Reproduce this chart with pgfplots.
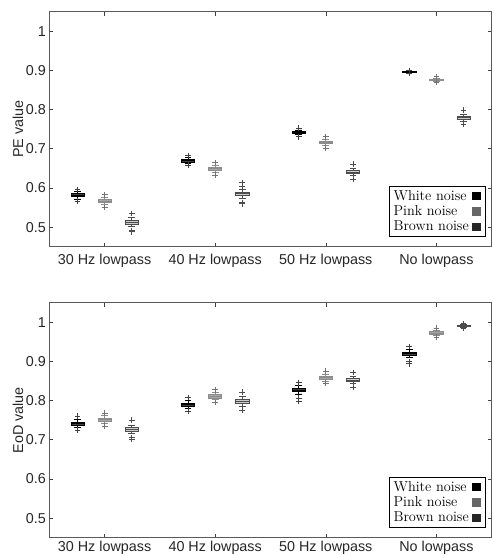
\documentclass[border=0pt]{standalone}
\usepackage{fontspec}
\usepackage{pgfplots}
\pgfplotsset{compat=1.18}
\usepgfplotslibrary{statistics}
\newfontfamily\sansf{Liberation Sans}
\newcommand{\fs}{\fontsize{14.4}{17}\selectfont}
% one box: position, style, median, lower quartile, upper quartile, lower whisker, upper whisker, outliers
\newcommand{\bx}[8]{\addplot[#2, forget plot, boxplot prepared={draw direction=y, draw position=#1, median=#3, lower quartile=#4, upper quartile=#5, lower whisker=#6, upper whisker=#7}] table[row sep=\\, y index=0] {y\\#8};}
\pgfplotsset{
  wn/.style={draw=black, fill=black!75, line width=0.7bp, mark=+, mark size=2.9bp, mark options={draw=black!75}},
  pn/.style={draw=black!45, fill=black!35, line width=0.7bp, mark=+, mark size=2.9bp, mark options={draw=black!55}},
  bn/.style={draw=black!70, fill=black!20, line width=0.7bp, mark=+, mark size=2.9bp, mark options={draw=black!70}},
  myaxis/.style={
    scale only axis, width=442.4bp, height=235bp, anchor=south west,
    xmin=0.5, xmax=4.5, ymin=0.45, ymax=1.05,
    xtick={1,2,3,4},
    xticklabels={30 Hz lowpass, 40 Hz lowpass, 50 Hz lowpass, No lowpass},
    ytick={0.5,0.6,0.7,0.8,0.9,1},
    tick align=inside, major tick length=4bp,
    axis line style={black!65, line width=0.6bp},
    tick style={black!75, line width=0.6bp},
    tick label style={font=\sansf\fs, black!85},
    label style={font=\sansf\fs, black!85},
    /pgf/number format/assume math mode=true,
    yticklabel style={/pgf/number format/fixed},
    ylabel style={at={(axis description cs:-0.0708,0.5)}, anchor=center},
    boxplot/draw direction=y,
    boxplot/box extend=0.12,
    boxplot/whisker extend=0.06,
    legend style={at={(1,0)}, anchor=south east, xshift=-5.7bp, yshift=10bp,
      font=\fs, draw=black, line width=0.6bp, legend cell align=left,
      inner xsep=2bp, inner ysep=2bp, row sep=0bp},
    legend plot pos=right,
    legend image code/.code={\path[draw=none, fill=none] (0,0) -- (1.3em,0);
      \draw[#1] plot coordinates {(0.55em,0)};},
  },
}
\begin{document}
\begin{tikzpicture}
\useasboundingbox (0,0) rectangle (493bp,555bp);
\begin{axis}[myaxis, at={(49.3bp,308.3bp)}, ylabel={PE value}, xticklabel style={yshift=-4bp}]
\bx{0.755}{wn}{0.582}{0.578}{0.586}{0.572}{0.591}{0.596\\0.566\\}
\bx{1.000}{pn}{0.566}{0.562}{0.570}{0.557}{0.575}{0.583\\0.550\\}
\bx{1.245}{bn}{0.513}{0.508}{0.517}{0.502}{0.524}{0.535\\0.491\\0.488\\}
\bx{1.755}{wn}{0.670}{0.666}{0.673}{0.662}{0.677}{0.683\\0.658\\}
\bx{2.000}{pn}{0.649}{0.645}{0.652}{0.640}{0.657}{0.665\\0.633\\}
\bx{2.245}{bn}{0.585}{0.580}{0.590}{0.573}{0.597}{0.605\\0.614\\0.563\\0.560\\}
\bx{2.755}{wn}{0.742}{0.739}{0.745}{0.736}{0.748}{0.753\\0.731\\}
\bx{3.000}{pn}{0.717}{0.713}{0.720}{0.709}{0.725}{0.731\\0.702\\}
\bx{3.245}{bn}{0.641}{0.637}{0.646}{0.632}{0.651}{0.661\\0.623\\}
\bx{3.755}{wn}{0.896}{0.895}{0.897}{0.894}{0.898}{0.899\\0.893\\}
\bx{4.000}{pn}{0.876}{0.874}{0.878}{0.872}{0.880}{0.884\\0.869\\}
\bx{4.245}{bn}{0.779}{0.775}{0.783}{0.770}{0.789}{0.799\\0.763\\}
\addlegendimage{only marks, mark=square*, mark size=3.8bp, black}
\addlegendimage{only marks, mark=square*, mark size=3.8bp, black!60}
\addlegendimage{only marks, mark=square*, mark size=3.8bp, black!85}
\legend{White noise, Pink noise, Brown noise}
\end{axis}
\begin{axis}[myaxis, at={(49.3bp,17.3bp)}, ylabel={EoD value}]
\bx{0.755}{wn}{0.741}{0.737}{0.745}{0.732}{0.752}{0.760\\0.725\\}
\bx{1.000}{pn}{0.752}{0.748}{0.756}{0.743}{0.762}{0.768\\0.735\\}
\bx{1.245}{bn}{0.727}{0.722}{0.731}{0.716}{0.738}{0.750\\0.706\\0.702\\}
\bx{1.755}{wn}{0.790}{0.786}{0.794}{0.781}{0.800}{0.808\\0.773\\}
\bx{2.000}{pn}{0.811}{0.807}{0.815}{0.802}{0.821}{0.828\\0.795\\}
\bx{2.245}{bn}{0.797}{0.792}{0.802}{0.786}{0.810}{0.821\\0.776\\}
\bx{2.755}{wn}{0.827}{0.823}{0.831}{0.817}{0.838}{0.846\\0.806\\0.798\\}
\bx{3.000}{pn}{0.859}{0.855}{0.863}{0.850}{0.868}{0.876\\0.845\\}
\bx{3.245}{bn}{0.853}{0.849}{0.857}{0.843}{0.863}{0.872\\0.834\\}
\bx{3.755}{wn}{0.920}{0.916}{0.924}{0.910}{0.930}{0.938\\0.900\\0.894\\}
\bx{4.000}{pn}{0.973}{0.970}{0.976}{0.966}{0.980}{0.985\\0.962\\}
\bx{4.245}{bn}{0.991}{0.989}{0.993}{0.987}{0.995}{0.997\\0.985\\}
\addlegendimage{only marks, mark=square*, mark size=3.8bp, black}
\addlegendimage{only marks, mark=square*, mark size=3.8bp, black!60}
\addlegendimage{only marks, mark=square*, mark size=3.8bp, black!85}
\legend{White noise, Pink noise, Brown noise}
\end{axis}
\end{tikzpicture}
\end{document}
